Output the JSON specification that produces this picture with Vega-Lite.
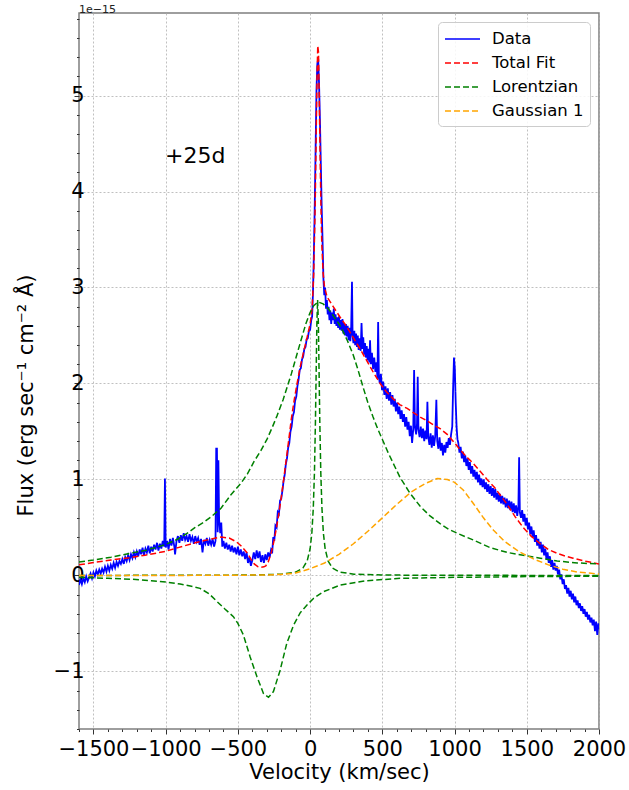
{
"$schema": "https://vega.github.io/schema/vega-lite/v6.json",
"width": 520, "height": 716,
"autosize": {"type": "none"},
"padding": {"left": 79, "top": 13, "right": 30, "bottom": 61},
"background": "white",
"title": {"text": "1e\u221215", "anchor": "start", "frame": "group", "fontSize": 11, "fontWeight": "normal", "offset": -7, "color": "#222222"},
"config": {
  "font": "DejaVu Sans",
  "view": {"stroke": "#7f7f7f", "strokeWidth": 1.5},
  "axis": {"domain": false, "tickColor": "#333333", "labelColor": "black", "titleColor": "black", "titleFontWeight": "normal", "labelFontSize": 21, "titleFontSize": 21, "gridColor": "#b0b0b0", "gridDash": [2, 2], "gridWidth": 0.8, "labelOverlap": false, "labelFlush": false},
  "legend": {"orient": "top-right", "offset": 9, "labelFontSize": 16.5, "labelColor": "black", "fillColor": "rgba(255,255,255,0.85)", "strokeColor": "#cccccc", "cornerRadius": 4, "padding": 6, "rowPadding": 4, "symbolType": "M-1,0H2.5", "symbolSize": 400, "symbolStrokeWidth": 1.5, "labelOffset": 26}
},
"datasets": {
"data": [
{"s":"Data","v":-1600,"f":-0.10},{"s":"Data","v":-1590,"f":-0.04},{"s":"Data","v":-1580,"f":-0.09},{"s":"Data","v":-1570,"f":-0.03},{"s":"Data","v":-1560,"f":-0.07},{"s":"Data","v":-1550,"f":-0.01},{"s":"Data","v":-1540,"f":-0.06},{"s":"Data","v":-1530,"f":-0.02},{"s":"Data","v":-1520,"f":0.02},{"s":"Data","v":-1510,"f":-0.03},{"s":"Data","v":-1500,"f":0.03},{"s":"Data","v":-1490,"f":-0.01},{"s":"Data","v":-1480,"f":0.05},{"s":"Data","v":-1470,"f":0.01},{"s":"Data","v":-1460,"f":0.06},{"s":"Data","v":-1450,"f":0.02},{"s":"Data","v":-1440,"f":0.07},{"s":"Data","v":-1430,"f":0.03},{"s":"Data","v":-1420,"f":0.09},{"s":"Data","v":-1410,"f":0.04},{"s":"Data","v":-1400,"f":0.10},{"s":"Data","v":-1390,"f":0.05},{"s":"Data","v":-1380,"f":0.11},{"s":"Data","v":-1370,"f":0.07},{"s":"Data","v":-1360,"f":0.13},{"s":"Data","v":-1350,"f":0.08},{"s":"Data","v":-1340,"f":0.14},{"s":"Data","v":-1330,"f":0.10},{"s":"Data","v":-1320,"f":0.15},{"s":"Data","v":-1310,"f":0.12},{"s":"Data","v":-1300,"f":0.17},{"s":"Data","v":-1290,"f":0.12},{"s":"Data","v":-1280,"f":0.19},{"s":"Data","v":-1270,"f":0.15},{"s":"Data","v":-1260,"f":0.21},{"s":"Data","v":-1250,"f":0.16},{"s":"Data","v":-1240,"f":0.22},{"s":"Data","v":-1230,"f":0.18},{"s":"Data","v":-1220,"f":0.24},{"s":"Data","v":-1210,"f":0.19},{"s":"Data","v":-1200,"f":0.25},{"s":"Data","v":-1190,"f":0.20},{"s":"Data","v":-1180,"f":0.27},{"s":"Data","v":-1170,"f":0.22},{"s":"Data","v":-1160,"f":0.29},{"s":"Data","v":-1150,"f":0.21},{"s":"Data","v":-1140,"f":0.28},{"s":"Data","v":-1130,"f":0.24},{"s":"Data","v":-1120,"f":0.31},{"s":"Data","v":-1110,"f":0.23},{"s":"Data","v":-1100,"f":0.30},{"s":"Data","v":-1090,"f":0.25},{"s":"Data","v":-1080,"f":0.32},{"s":"Data","v":-1070,"f":0.27},{"s":"Data","v":-1060,"f":0.34},{"s":"Data","v":-1050,"f":0.26},{"s":"Data","v":-1040,"f":0.33},{"s":"Data","v":-1030,"f":0.28},{"s":"Data","v":-1020,"f":0.36},{"s":"Data","v":-1010,"f":0.30},{"s":"Data","v":-1005,"f":1.01},{"s":"Data","v":-1000,"f":0.29},{"s":"Data","v":-990,"f":0.36},{"s":"Data","v":-980,"f":0.27},{"s":"Data","v":-970,"f":0.38},{"s":"Data","v":-960,"f":0.31},{"s":"Data","v":-950,"f":0.39},{"s":"Data","v":-940,"f":0.30},{"s":"Data","v":-935,"f":0.22},{"s":"Data","v":-925,"f":0.36},{"s":"Data","v":-915,"f":0.41},{"s":"Data","v":-905,"f":0.34},{"s":"Data","v":-895,"f":0.42},{"s":"Data","v":-885,"f":0.36},{"s":"Data","v":-875,"f":0.44},{"s":"Data","v":-865,"f":0.37},{"s":"Data","v":-855,"f":0.41},{"s":"Data","v":-845,"f":0.35},{"s":"Data","v":-835,"f":0.43},{"s":"Data","v":-825,"f":0.36},{"s":"Data","v":-815,"f":0.40},{"s":"Data","v":-805,"f":0.33},{"s":"Data","v":-795,"f":0.41},{"s":"Data","v":-785,"f":0.35},{"s":"Data","v":-775,"f":0.39},{"s":"Data","v":-765,"f":0.32},{"s":"Data","v":-755,"f":0.38},{"s":"Data","v":-745,"f":0.24},{"s":"Data","v":-735,"f":0.37},{"s":"Data","v":-725,"f":0.33},{"s":"Data","v":-715,"f":0.39},{"s":"Data","v":-705,"f":0.31},{"s":"Data","v":-695,"f":0.37},{"s":"Data","v":-685,"f":0.32},{"s":"Data","v":-675,"f":0.38},{"s":"Data","v":-665,"f":0.30},{"s":"Data","v":-655,"f":0.36},{"s":"Data","v":-650,"f":1.32},{"s":"Data","v":-645,"f":1.32},{"s":"Data","v":-640,"f":0.45},{"s":"Data","v":-635,"f":1.20},{"s":"Data","v":-630,"f":0.58},{"s":"Data","v":-622,"f":0.44},{"s":"Data","v":-615,"f":0.55},{"s":"Data","v":-608,"f":0.30},{"s":"Data","v":-600,"f":0.36},{"s":"Data","v":-590,"f":0.28},{"s":"Data","v":-580,"f":0.34},{"s":"Data","v":-570,"f":0.27},{"s":"Data","v":-560,"f":0.32},{"s":"Data","v":-550,"f":0.25},{"s":"Data","v":-540,"f":0.31},{"s":"Data","v":-530,"f":0.24},{"s":"Data","v":-520,"f":0.29},{"s":"Data","v":-510,"f":0.22},{"s":"Data","v":-500,"f":0.30},{"s":"Data","v":-490,"f":0.21},{"s":"Data","v":-480,"f":0.27},{"s":"Data","v":-470,"f":0.20},{"s":"Data","v":-460,"f":0.25},{"s":"Data","v":-450,"f":0.17},{"s":"Data","v":-440,"f":0.24},{"s":"Data","v":-430,"f":0.13},{"s":"Data","v":-420,"f":0.19},{"s":"Data","v":-410,"f":0.10},{"s":"Data","v":-400,"f":0.16},{"s":"Data","v":-390,"f":0.24},{"s":"Data","v":-380,"f":0.17},{"s":"Data","v":-370,"f":0.26},{"s":"Data","v":-360,"f":0.18},{"s":"Data","v":-350,"f":0.25},{"s":"Data","v":-340,"f":0.14},{"s":"Data","v":-330,"f":0.21},{"s":"Data","v":-320,"f":0.13},{"s":"Data","v":-310,"f":0.22},{"s":"Data","v":-300,"f":0.16},{"s":"Data","v":-290,"f":0.24},{"s":"Data","v":-280,"f":0.19},{"s":"Data","v":-270,"f":0.27},{"s":"Data","v":-262,"f":0.25},{"s":"Data","v":-255,"f":0.40},{"s":"Data","v":-248,"f":0.36},{"s":"Data","v":-240,"f":0.52},{"s":"Data","v":-232,"f":0.50},{"s":"Data","v":-224,"f":0.66},{"s":"Data","v":-216,"f":0.64},{"s":"Data","v":-208,"f":0.78},{"s":"Data","v":-200,"f":0.80},{"s":"Data","v":-192,"f":0.88},{"s":"Data","v":-184,"f":0.98},{"s":"Data","v":-176,"f":1.05},{"s":"Data","v":-168,"f":1.16},{"s":"Data","v":-160,"f":1.22},{"s":"Data","v":-152,"f":1.33},{"s":"Data","v":-144,"f":1.38},{"s":"Data","v":-136,"f":1.50},{"s":"Data","v":-128,"f":1.55},{"s":"Data","v":-120,"f":1.66},{"s":"Data","v":-112,"f":1.70},{"s":"Data","v":-104,"f":1.82},{"s":"Data","v":-96,"f":1.86},{"s":"Data","v":-88,"f":1.97},{"s":"Data","v":-80,"f":2.04},{"s":"Data","v":-72,"f":2.14},{"s":"Data","v":-64,"f":2.16},{"s":"Data","v":-56,"f":2.25},{"s":"Data","v":-48,"f":2.28},{"s":"Data","v":-40,"f":2.36},{"s":"Data","v":-32,"f":2.38},{"s":"Data","v":-24,"f":2.46},{"s":"Data","v":-16,"f":2.47},{"s":"Data","v":-8,"f":2.55},{"s":"Data","v":0,"f":2.56},{"s":"Data","v":8,"f":2.66},{"s":"Data","v":14,"f":2.70},{"s":"Data","v":20,"f":2.95},{"s":"Data","v":26,"f":3.35},{"s":"Data","v":32,"f":3.85},{"s":"Data","v":38,"f":4.45},{"s":"Data","v":44,"f":5.05},{"s":"Data","v":50,"f":5.33},{"s":"Data","v":56,"f":5.38},{"s":"Data","v":62,"f":5.12},{"s":"Data","v":68,"f":4.75},{"s":"Data","v":74,"f":4.30},{"s":"Data","v":80,"f":3.85},{"s":"Data","v":86,"f":3.50},{"s":"Data","v":92,"f":3.10},{"s":"Data","v":98,"f":2.92},{"s":"Data","v":104,"f":3.00},{"s":"Data","v":110,"f":2.78},{"s":"Data","v":116,"f":2.87},{"s":"Data","v":122,"f":2.72},{"s":"Data","v":128,"f":2.80},{"s":"Data","v":134,"f":2.66},{"s":"Data","v":140,"f":2.76},{"s":"Data","v":146,"f":2.62},{"s":"Data","v":152,"f":2.74},{"s":"Data","v":158,"f":2.66},{"s":"Data","v":164,"f":2.78},{"s":"Data","v":170,"f":2.62},{"s":"Data","v":176,"f":2.72},{"s":"Data","v":182,"f":2.60},{"s":"Data","v":188,"f":2.69},{"s":"Data","v":194,"f":2.58},{"s":"Data","v":200,"f":2.70},{"s":"Data","v":206,"f":2.56},{"s":"Data","v":212,"f":2.66},{"s":"Data","v":218,"f":2.55},{"s":"Data","v":224,"f":2.67},{"s":"Data","v":230,"f":2.52},{"s":"Data","v":236,"f":2.63},{"s":"Data","v":242,"f":2.50},{"s":"Data","v":248,"f":2.62},{"s":"Data","v":254,"f":2.49},{"s":"Data","v":260,"f":2.60},{"s":"Data","v":266,"f":2.45},{"s":"Data","v":272,"f":2.58},{"s":"Data","v":278,"f":2.44},{"s":"Data","v":284,"f":2.56},{"s":"Data","v":290,"f":3.06},{"s":"Data","v":294,"f":2.50},{"s":"Data","v":300,"f":2.42},{"s":"Data","v":306,"f":2.55},{"s":"Data","v":312,"f":2.40},{"s":"Data","v":318,"f":2.52},{"s":"Data","v":324,"f":2.38},{"s":"Data","v":330,"f":2.50},{"s":"Data","v":336,"f":2.35},{"s":"Data","v":342,"f":2.47},{"s":"Data","v":350,"f":2.34},{"s":"Data","v":356,"f":2.63},{"s":"Data","v":362,"f":2.36},{"s":"Data","v":368,"f":2.48},{"s":"Data","v":374,"f":2.30},{"s":"Data","v":380,"f":2.42},{"s":"Data","v":386,"f":2.27},{"s":"Data","v":392,"f":2.39},{"s":"Data","v":398,"f":2.24},{"s":"Data","v":404,"f":2.36},{"s":"Data","v":410,"f":2.22},{"s":"Data","v":415,"f":2.45},{"s":"Data","v":420,"f":2.20},{"s":"Data","v":428,"f":2.32},{"s":"Data","v":436,"f":2.15},{"s":"Data","v":444,"f":2.27},{"s":"Data","v":452,"f":2.12},{"s":"Data","v":460,"f":2.22},{"s":"Data","v":466,"f":2.05},{"s":"Data","v":471,"f":2.64},{"s":"Data","v":476,"f":2.08},{"s":"Data","v":482,"f":2.00},{"s":"Data","v":490,"f":2.10},{"s":"Data","v":498,"f":1.93},{"s":"Data","v":506,"f":2.02},{"s":"Data","v":514,"f":1.88},{"s":"Data","v":522,"f":1.97},{"s":"Data","v":530,"f":1.84},{"s":"Data","v":538,"f":1.95},{"s":"Data","v":546,"f":1.82},{"s":"Data","v":554,"f":1.91},{"s":"Data","v":562,"f":1.78},{"s":"Data","v":570,"f":1.88},{"s":"Data","v":578,"f":1.76},{"s":"Data","v":586,"f":1.84},{"s":"Data","v":594,"f":1.71},{"s":"Data","v":602,"f":1.80},{"s":"Data","v":610,"f":1.68},{"s":"Data","v":618,"f":1.76},{"s":"Data","v":626,"f":1.63},{"s":"Data","v":634,"f":1.72},{"s":"Data","v":642,"f":1.60},{"s":"Data","v":650,"f":1.68},{"s":"Data","v":658,"f":1.55},{"s":"Data","v":666,"f":1.65},{"s":"Data","v":674,"f":1.52},{"s":"Data","v":682,"f":1.60},{"s":"Data","v":690,"f":1.45},{"s":"Data","v":698,"f":1.56},{"s":"Data","v":706,"f":1.38},{"s":"Data","v":714,"f":1.52},{"s":"Data","v":720,"f":2.14},{"s":"Data","v":726,"f":1.55},{"s":"Data","v":734,"f":1.47},{"s":"Data","v":740,"f":1.58},{"s":"Data","v":745,"f":2.07},{"s":"Data","v":750,"f":1.52},{"s":"Data","v":758,"f":1.44},{"s":"Data","v":766,"f":1.55},{"s":"Data","v":774,"f":1.43},{"s":"Data","v":782,"f":1.53},{"s":"Data","v":790,"f":1.40},{"s":"Data","v":798,"f":1.51},{"s":"Data","v":806,"f":1.42},{"s":"Data","v":812,"f":1.81},{"s":"Data","v":818,"f":1.45},{"s":"Data","v":826,"f":1.36},{"s":"Data","v":834,"f":1.48},{"s":"Data","v":842,"f":1.33},{"s":"Data","v":850,"f":1.46},{"s":"Data","v":858,"f":1.35},{"s":"Data","v":866,"f":1.45},{"s":"Data","v":874,"f":1.83},{"s":"Data","v":880,"f":1.40},{"s":"Data","v":888,"f":1.32},{"s":"Data","v":896,"f":1.44},{"s":"Data","v":904,"f":1.30},{"s":"Data","v":912,"f":1.38},{"s":"Data","v":920,"f":1.25},{"s":"Data","v":928,"f":1.36},{"s":"Data","v":936,"f":1.28},{"s":"Data","v":944,"f":1.39},{"s":"Data","v":952,"f":1.33},{"s":"Data","v":960,"f":1.43},{"s":"Data","v":968,"f":1.36},{"s":"Data","v":976,"f":1.47},{"s":"Data","v":984,"f":1.55},{"s":"Data","v":990,"f":1.95},{"s":"Data","v":996,"f":2.27},{"s":"Data","v":1002,"f":2.15},{"s":"Data","v":1008,"f":1.80},{"s":"Data","v":1014,"f":1.55},{"s":"Data","v":1020,"f":1.42},{"s":"Data","v":1026,"f":1.38},{"s":"Data","v":1034,"f":1.28},{"s":"Data","v":1042,"f":1.34},{"s":"Data","v":1050,"f":1.22},{"s":"Data","v":1058,"f":1.29},{"s":"Data","v":1066,"f":1.18},{"s":"Data","v":1074,"f":1.25},{"s":"Data","v":1082,"f":1.14},{"s":"Data","v":1090,"f":1.22},{"s":"Data","v":1098,"f":1.10},{"s":"Data","v":1106,"f":1.18},{"s":"Data","v":1114,"f":1.06},{"s":"Data","v":1122,"f":1.14},{"s":"Data","v":1130,"f":1.03},{"s":"Data","v":1138,"f":1.10},{"s":"Data","v":1146,"f":1.00},{"s":"Data","v":1154,"f":1.08},{"s":"Data","v":1162,"f":0.97},{"s":"Data","v":1170,"f":1.05},{"s":"Data","v":1178,"f":0.94},{"s":"Data","v":1186,"f":1.01},{"s":"Data","v":1194,"f":0.92},{"s":"Data","v":1202,"f":1.00},{"s":"Data","v":1210,"f":0.90},{"s":"Data","v":1218,"f":0.97},{"s":"Data","v":1226,"f":0.87},{"s":"Data","v":1234,"f":0.95},{"s":"Data","v":1242,"f":0.85},{"s":"Data","v":1250,"f":0.93},{"s":"Data","v":1258,"f":0.83},{"s":"Data","v":1266,"f":0.91},{"s":"Data","v":1274,"f":0.81},{"s":"Data","v":1282,"f":0.90},{"s":"Data","v":1290,"f":0.79},{"s":"Data","v":1298,"f":0.86},{"s":"Data","v":1306,"f":0.77},{"s":"Data","v":1314,"f":0.85},{"s":"Data","v":1322,"f":0.75},{"s":"Data","v":1330,"f":0.83},{"s":"Data","v":1338,"f":0.74},{"s":"Data","v":1346,"f":0.81},{"s":"Data","v":1354,"f":0.71},{"s":"Data","v":1362,"f":0.80},{"s":"Data","v":1370,"f":0.70},{"s":"Data","v":1378,"f":0.78},{"s":"Data","v":1386,"f":0.68},{"s":"Data","v":1394,"f":0.77},{"s":"Data","v":1402,"f":0.66},{"s":"Data","v":1410,"f":0.75},{"s":"Data","v":1418,"f":0.65},{"s":"Data","v":1426,"f":0.73},{"s":"Data","v":1434,"f":0.62},{"s":"Data","v":1442,"f":0.72},{"s":"Data","v":1447,"f":1.23},{"s":"Data","v":1452,"f":0.66},{"s":"Data","v":1460,"f":0.60},{"s":"Data","v":1468,"f":0.68},{"s":"Data","v":1476,"f":0.56},{"s":"Data","v":1484,"f":0.64},{"s":"Data","v":1492,"f":0.52},{"s":"Data","v":1500,"f":0.60},{"s":"Data","v":1508,"f":0.48},{"s":"Data","v":1516,"f":0.55},{"s":"Data","v":1524,"f":0.43},{"s":"Data","v":1532,"f":0.51},{"s":"Data","v":1540,"f":0.40},{"s":"Data","v":1548,"f":0.47},{"s":"Data","v":1556,"f":0.35},{"s":"Data","v":1564,"f":0.42},{"s":"Data","v":1572,"f":0.31},{"s":"Data","v":1580,"f":0.38},{"s":"Data","v":1588,"f":0.28},{"s":"Data","v":1596,"f":0.35},{"s":"Data","v":1604,"f":0.24},{"s":"Data","v":1612,"f":0.32},{"s":"Data","v":1620,"f":0.21},{"s":"Data","v":1628,"f":0.28},{"s":"Data","v":1636,"f":0.17},{"s":"Data","v":1644,"f":0.24},{"s":"Data","v":1652,"f":0.13},{"s":"Data","v":1660,"f":0.20},{"s":"Data","v":1668,"f":0.09},{"s":"Data","v":1676,"f":0.16},{"s":"Data","v":1684,"f":0.06},{"s":"Data","v":1692,"f":0.13},{"s":"Data","v":1700,"f":0.05},{"s":"Data","v":1708,"f":0.10},{"s":"Data","v":1716,"f":0.01},{"s":"Data","v":1724,"f":0.06},{"s":"Data","v":1732,"f":-0.04},{"s":"Data","v":1740,"f":0.01},{"s":"Data","v":1748,"f":-0.09},{"s":"Data","v":1756,"f":-0.04},{"s":"Data","v":1764,"f":-0.14},{"s":"Data","v":1772,"f":-0.10},{"s":"Data","v":1780,"f":-0.19},{"s":"Data","v":1788,"f":-0.13},{"s":"Data","v":1796,"f":-0.22},{"s":"Data","v":1804,"f":-0.16},{"s":"Data","v":1812,"f":-0.25},{"s":"Data","v":1820,"f":-0.19},{"s":"Data","v":1828,"f":-0.28},{"s":"Data","v":1836,"f":-0.22},{"s":"Data","v":1844,"f":-0.31},{"s":"Data","v":1852,"f":-0.26},{"s":"Data","v":1860,"f":-0.34},{"s":"Data","v":1868,"f":-0.29},{"s":"Data","v":1876,"f":-0.37},{"s":"Data","v":1884,"f":-0.32},{"s":"Data","v":1892,"f":-0.40},{"s":"Data","v":1900,"f":-0.35},{"s":"Data","v":1908,"f":-0.43},{"s":"Data","v":1916,"f":-0.38},{"s":"Data","v":1924,"f":-0.46},{"s":"Data","v":1932,"f":-0.41},{"s":"Data","v":1940,"f":-0.49},{"s":"Data","v":1948,"f":-0.44},{"s":"Data","v":1956,"f":-0.52},{"s":"Data","v":1964,"f":-0.46},{"s":"Data","v":1972,"f":-0.58},{"s":"Data","v":1980,"f":-0.48},{"s":"Data","v":1988,"f":-0.62},{"s":"Data","v":1996,"f":-0.50},{"s":"Data","v":2000,"f":-0.56}
],
"fit": [
{"s":"Total Fit","v":-1600,"f":0.11},{"s":"Total Fit","v":-1500,"f":0.135},{"s":"Total Fit","v":-1378,"f":0.16},{"s":"Total Fit","v":-1250,"f":0.185},{"s":"Total Fit","v":-1143,"f":0.21},{"s":"Total Fit","v":-1004,"f":0.25},{"s":"Total Fit","v":-914,"f":0.29},{"s":"Total Fit","v":-796,"f":0.34},{"s":"Total Fit","v":-686,"f":0.38},{"s":"Total Fit","v":-617,"f":0.40},{"s":"Total Fit","v":-560,"f":0.39},{"s":"Total Fit","v":-510,"f":0.35},{"s":"Total Fit","v":-479,"f":0.31},{"s":"Total Fit","v":-450,"f":0.26},{"s":"Total Fit","v":-433,"f":0.23},{"s":"Total Fit","v":-410,"f":0.17},{"s":"Total Fit","v":-387,"f":0.12},{"s":"Total Fit","v":-360,"f":0.09},{"s":"Total Fit","v":-341,"f":0.085},{"s":"Total Fit","v":-320,"f":0.09},{"s":"Total Fit","v":-307,"f":0.10},{"s":"Total Fit","v":-290,"f":0.14},{"s":"Total Fit","v":-270,"f":0.23},{"s":"Total Fit","v":-250,"f":0.36},{"s":"Total Fit","v":-236,"f":0.47},{"s":"Total Fit","v":-218,"f":0.63},{"s":"Total Fit","v":-200,"f":0.81},{"s":"Total Fit","v":-183,"f":1.00},{"s":"Total Fit","v":-166,"f":1.20},{"s":"Total Fit","v":-148,"f":1.41},{"s":"Total Fit","v":-131,"f":1.62},{"s":"Total Fit","v":-110,"f":1.83},{"s":"Total Fit","v":-90,"f":2.00},{"s":"Total Fit","v":-69,"f":2.17},{"s":"Total Fit","v":-45,"f":2.33},{"s":"Total Fit","v":-21,"f":2.48},{"s":"Total Fit","v":0,"f":2.62},{"s":"Total Fit","v":14,"f":2.78},{"s":"Total Fit","v":25,"f":3.15},{"s":"Total Fit","v":35,"f":3.85},{"s":"Total Fit","v":42,"f":4.6},{"s":"Total Fit","v":48,"f":5.2},{"s":"Total Fit","v":53,"f":5.52},{"s":"Total Fit","v":58,"f":5.45},{"s":"Total Fit","v":63,"f":5.0},{"s":"Total Fit","v":69,"f":4.4},{"s":"Total Fit","v":75,"f":3.85},{"s":"Total Fit","v":81,"f":3.45},{"s":"Total Fit","v":90,"f":3.15},{"s":"Total Fit","v":100,"f":3.0},{"s":"Total Fit","v":118,"f":2.90},{"s":"Total Fit","v":160,"f":2.80},{"s":"Total Fit","v":208,"f":2.69},{"s":"Total Fit","v":250,"f":2.60},{"s":"Total Fit","v":298,"f":2.48},{"s":"Total Fit","v":350,"f":2.35},{"s":"Total Fit","v":395,"f":2.23},{"s":"Total Fit","v":440,"f":2.11},{"s":"Total Fit","v":485,"f":2.00},{"s":"Total Fit","v":530,"f":1.91},{"s":"Total Fit","v":575,"f":1.84},{"s":"Total Fit","v":620,"f":1.78},{"s":"Total Fit","v":672,"f":1.74},{"s":"Total Fit","v":720,"f":1.69},{"s":"Total Fit","v":762,"f":1.65},{"s":"Total Fit","v":810,"f":1.61},{"s":"Total Fit","v":852,"f":1.57},{"s":"Total Fit","v":900,"f":1.53},{"s":"Total Fit","v":949,"f":1.47},{"s":"Total Fit","v":1000,"f":1.38},{"s":"Total Fit","v":1039,"f":1.31},{"s":"Total Fit","v":1080,"f":1.24},{"s":"Total Fit","v":1128,"f":1.17},{"s":"Total Fit","v":1180,"f":1.08},{"s":"Total Fit","v":1225,"f":1.00},{"s":"Total Fit","v":1280,"f":0.91},{"s":"Total Fit","v":1330,"f":0.81},{"s":"Total Fit","v":1364,"f":0.74},{"s":"Total Fit","v":1420,"f":0.61},{"s":"Total Fit","v":1475,"f":0.50},{"s":"Total Fit","v":1530,"f":0.41},{"s":"Total Fit","v":1593,"f":0.33},{"s":"Total Fit","v":1650,"f":0.27},{"s":"Total Fit","v":1710,"f":0.23},{"s":"Total Fit","v":1770,"f":0.20},{"s":"Total Fit","v":1821,"f":0.18},{"s":"Total Fit","v":1900,"f":0.15},{"s":"Total Fit","v":2000,"f":0.12}
],
"lor": [
{"s":"Lorentzian","c":"b","v":-1600,"f":0.14},{"s":"Lorentzian","c":"b","v":-1500,"f":0.16},{"s":"Lorentzian","c":"b","v":-1378,"f":0.19},{"s":"Lorentzian","c":"b","v":-1250,"f":0.23},{"s":"Lorentzian","c":"b","v":-1143,"f":0.26},{"s":"Lorentzian","c":"b","v":-1004,"f":0.32},{"s":"Lorentzian","c":"b","v":-914,"f":0.38},{"s":"Lorentzian","c":"b","v":-850,"f":0.44},{"s":"Lorentzian","c":"b","v":-796,"f":0.50},{"s":"Lorentzian","c":"b","v":-740,"f":0.55},{"s":"Lorentzian","c":"b","v":-686,"f":0.61},{"s":"Lorentzian","c":"b","v":-617,"f":0.70},{"s":"Lorentzian","c":"b","v":-548,"f":0.84},{"s":"Lorentzian","c":"b","v":-479,"f":0.96},{"s":"Lorentzian","c":"b","v":-433,"f":1.06},{"s":"Lorentzian","c":"b","v":-387,"f":1.19},{"s":"Lorentzian","c":"b","v":-341,"f":1.30},{"s":"Lorentzian","c":"b","v":-298,"f":1.42},{"s":"Lorentzian","c":"b","v":-260,"f":1.55},{"s":"Lorentzian","c":"b","v":-230,"f":1.66},{"s":"Lorentzian","c":"b","v":-187,"f":1.83},{"s":"Lorentzian","c":"b","v":-130,"f":2.10},{"s":"Lorentzian","c":"b","v":-69,"f":2.42},{"s":"Lorentzian","c":"b","v":-30,"f":2.62},{"s":"Lorentzian","c":"b","v":0,"f":2.74},{"s":"Lorentzian","c":"b","v":25,"f":2.81},{"s":"Lorentzian","c":"b","v":55,"f":2.85},{"s":"Lorentzian","c":"b","v":90,"f":2.83},{"s":"Lorentzian","c":"b","v":125,"f":2.78},{"s":"Lorentzian","c":"b","v":159,"f":2.71},{"s":"Lorentzian","c":"b","v":200,"f":2.62},{"s":"Lorentzian","c":"b","v":229,"f":2.54},{"s":"Lorentzian","c":"b","v":260,"f":2.44},{"s":"Lorentzian","c":"b","v":298,"f":2.30},{"s":"Lorentzian","c":"b","v":330,"f":2.15},{"s":"Lorentzian","c":"b","v":367,"f":1.96},{"s":"Lorentzian","c":"b","v":400,"f":1.80},{"s":"Lorentzian","c":"b","v":436,"f":1.65},{"s":"Lorentzian","c":"b","v":470,"f":1.52},{"s":"Lorentzian","c":"b","v":505,"f":1.40},{"s":"Lorentzian","c":"b","v":540,"f":1.28},{"s":"Lorentzian","c":"b","v":575,"f":1.17},{"s":"Lorentzian","c":"b","v":623,"f":1.02},{"s":"Lorentzian","c":"b","v":690,"f":0.86},{"s":"Lorentzian","c":"b","v":762,"f":0.72},{"s":"Lorentzian","c":"b","v":830,"f":0.62},{"s":"Lorentzian","c":"b","v":900,"f":0.54},{"s":"Lorentzian","c":"b","v":960,"f":0.48},{"s":"Lorentzian","c":"b","v":1018,"f":0.44},{"s":"Lorentzian","c":"b","v":1128,"f":0.37},{"s":"Lorentzian","c":"b","v":1246,"f":0.29},{"s":"Lorentzian","c":"b","v":1364,"f":0.24},{"s":"Lorentzian","c":"b","v":1475,"f":0.21},{"s":"Lorentzian","c":"b","v":1593,"f":0.18},{"s":"Lorentzian","c":"b","v":1710,"f":0.15},{"s":"Lorentzian","c":"b","v":1850,"f":0.13},{"s":"Lorentzian","c":"b","v":2000,"f":0.12},
{"s":"Lorentzian","c":"n","v":-1600,"f":0.0003},{"s":"Lorentzian","c":"n","v":-800,"f":0.0011},{"s":"Lorentzian","c":"n","v":-400,"f":0.004},{"s":"Lorentzian","c":"n","v":-200,"f":0.013},{"s":"Lorentzian","c":"n","v":-100,"f":0.035},{"s":"Lorentzian","c":"n","v":-50,"f":0.077},{"s":"Lorentzian","c":"n","v":-20,"f":0.152},{"s":"Lorentzian","c":"n","v":0,"f":0.278},{"s":"Lorentzian","c":"n","v":12,"f":0.44},{"s":"Lorentzian","c":"n","v":22,"f":0.70},{"s":"Lorentzian","c":"n","v":30,"f":1.07},{"s":"Lorentzian","c":"n","v":37,"f":1.61},{"s":"Lorentzian","c":"n","v":42,"f":2.13},{"s":"Lorentzian","c":"n","v":47,"f":2.64},{"s":"Lorentzian","c":"n","v":52,"f":2.87},{"s":"Lorentzian","c":"n","v":57,"f":2.64},{"s":"Lorentzian","c":"n","v":62,"f":2.13},{"s":"Lorentzian","c":"n","v":67,"f":1.61},{"s":"Lorentzian","c":"n","v":74,"f":1.07},{"s":"Lorentzian","c":"n","v":82,"f":0.70},{"s":"Lorentzian","c":"n","v":92,"f":0.44},{"s":"Lorentzian","c":"n","v":104,"f":0.278},{"s":"Lorentzian","c":"n","v":124,"f":0.152},{"s":"Lorentzian","c":"n","v":154,"f":0.077},{"s":"Lorentzian","c":"n","v":204,"f":0.035},{"s":"Lorentzian","c":"n","v":304,"f":0.013},{"s":"Lorentzian","c":"n","v":504,"f":0.004},{"s":"Lorentzian","c":"n","v":1000,"f":0.0009},{"s":"Lorentzian","c":"n","v":2000,"f":0.0002},
{"s":"Lorentzian","c":"a","v":-1600,"f":-0.02},{"s":"Lorentzian","c":"a","v":-1400,"f":-0.03},{"s":"Lorentzian","c":"a","v":-1226,"f":-0.04},{"s":"Lorentzian","c":"a","v":-1100,"f":-0.055},{"s":"Lorentzian","c":"a","v":-990,"f":-0.07},{"s":"Lorentzian","c":"a","v":-900,"f":-0.09},{"s":"Lorentzian","c":"a","v":-830,"f":-0.11},{"s":"Lorentzian","c":"a","v":-762,"f":-0.135},{"s":"Lorentzian","c":"a","v":-700,"f":-0.19},{"s":"Lorentzian","c":"a","v":-646,"f":-0.27},{"s":"Lorentzian","c":"a","v":-590,"f":-0.35},{"s":"Lorentzian","c":"a","v":-531,"f":-0.43},{"s":"Lorentzian","c":"a","v":-500,"f":-0.50},{"s":"Lorentzian","c":"a","v":-462,"f":-0.62},{"s":"Lorentzian","c":"a","v":-415,"f":-0.85},{"s":"Lorentzian","c":"a","v":-369,"f":-1.05},{"s":"Lorentzian","c":"a","v":-323,"f":-1.23},{"s":"Lorentzian","c":"a","v":-288,"f":-1.27},{"s":"Lorentzian","c":"a","v":-254,"f":-1.21},{"s":"Lorentzian","c":"a","v":-208,"f":-0.99},{"s":"Lorentzian","c":"a","v":-162,"f":-0.71},{"s":"Lorentzian","c":"a","v":-115,"f":-0.52},{"s":"Lorentzian","c":"a","v":-69,"f":-0.39},{"s":"Lorentzian","c":"a","v":-23,"f":-0.31},{"s":"Lorentzian","c":"a","v":23,"f":-0.24},{"s":"Lorentzian","c":"a","v":92,"f":-0.17},{"s":"Lorentzian","c":"a","v":208,"f":-0.10},{"s":"Lorentzian","c":"a","v":392,"f":-0.055},{"s":"Lorentzian","c":"a","v":623,"f":-0.03},{"s":"Lorentzian","c":"a","v":1000,"f":-0.02},{"s":"Lorentzian","c":"a","v":1500,"f":-0.012},{"s":"Lorentzian","c":"a","v":2000,"f":-0.008}
],
"gau": [
{"s":"Gaussian 1","v":-1600,"f":0.0},{"s":"Gaussian 1","v":-1000,"f":0.0},{"s":"Gaussian 1","v":-500,"f":0.002},{"s":"Gaussian 1","v":-300,"f":0.005},{"s":"Gaussian 1","v":-200,"f":0.01},{"s":"Gaussian 1","v":-100,"f":0.025},{"s":"Gaussian 1","v":0,"f":0.07},{"s":"Gaussian 1","v":100,"f":0.13},{"s":"Gaussian 1","v":200,"f":0.22},{"s":"Gaussian 1","v":300,"f":0.33},{"s":"Gaussian 1","v":400,"f":0.46},{"s":"Gaussian 1","v":500,"f":0.60},{"s":"Gaussian 1","v":600,"f":0.74},{"s":"Gaussian 1","v":700,"f":0.87},{"s":"Gaussian 1","v":800,"f":0.96},{"s":"Gaussian 1","v":880,"f":1.01},{"s":"Gaussian 1","v":950,"f":1.00},{"s":"Gaussian 1","v":1000,"f":0.97},{"s":"Gaussian 1","v":1060,"f":0.89},{"s":"Gaussian 1","v":1130,"f":0.75},{"s":"Gaussian 1","v":1200,"f":0.60},{"s":"Gaussian 1","v":1270,"f":0.47},{"s":"Gaussian 1","v":1350,"f":0.35},{"s":"Gaussian 1","v":1450,"f":0.245},{"s":"Gaussian 1","v":1550,"f":0.17},{"s":"Gaussian 1","v":1650,"f":0.11},{"s":"Gaussian 1","v":1750,"f":0.065},{"s":"Gaussian 1","v":1850,"f":0.035},{"s":"Gaussian 1","v":2000,"f":0.015}
]
},
"encoding": {
  "x": {"field": "v", "type": "quantitative", "scale": {"domain": [-1600, 2000], "nice": false, "zero": false},
    "axis": {"title": "Velocity (km/sec)", "format": "d",
      "values": [-1600,-1500,-1400,-1300,-1200,-1100,-1000,-900,-800,-700,-600,-500,-400,-300,-200,-100,0,100,200,300,400,500,600,700,800,900,1000,1100,1200,1300,1400,1500,1600,1700,1800,1900,2000],
      "labelExpr": "abs(datum.value % 500) < 0.01 ? datum.label : ''",
      "tickSize": {"condition": {"test": "abs(datum.value % 500) < 0.01", "value": 5}, "value": 2.5},
      "gridOpacity": {"condition": {"test": "abs(datum.value % 500) < 0.01", "value": 1}, "value": 0},
      "labelPadding": 4, "titleBaseline": "alphabetic", "titleY": 49}},
  "y": {"field": "f", "type": "quantitative", "scale": {"domain": [-1.6, 5.86], "nice": false, "zero": false},
    "axis": {"title": "Flux (erg sec\u207b\u00b9 cm\u207b\u00b2 \u00c5)",
      "values": [-1.6,-1.4,-1.2,-1,-0.8,-0.6,-0.4,-0.2,0,0.2,0.4,0.6,0.8,1,1.2,1.4,1.6,1.8,2,2.2,2.4,2.6,2.8,3,3.2,3.4,3.6,3.8,4,4.2,4.4,4.6,4.8,5,5.2,5.4,5.6,5.8],
      "labelExpr": "abs(datum.value - round(datum.value)) < 0.01 ? format(round(datum.value), 'd') : ''",
      "tickSize": {"condition": {"test": "abs(datum.value - round(datum.value)) < 0.01", "value": 5}, "value": 2.5},
      "gridOpacity": {"condition": {"test": "abs(datum.value - round(datum.value)) < 0.01", "value": 1}, "value": 0},
      "labelPadding": -10, "titleBaseline": "alphabetic", "titleAngle": -90, "titleX": -47, "titleY": 382}}
},
"layer": [
  {"data": {"name": "data"}, "mark": {"type": "line", "strokeWidth": 1.8, "clip": true},
   "encoding": {
     "color": {"field": "s", "type": "nominal", "scale": {"domain": ["Data","Total Fit","Lorentzian","Gaussian 1"], "range": ["#0000ff","#ff0000","#008000","#ffa500"]}, "legend": {"title": null}},
     "strokeDash": {"field": "s", "type": "nominal", "scale": {"domain": ["Data","Total Fit","Lorentzian","Gaussian 1"], "range": [[1,0],[6,3],[6,3],[6,3]]}, "legend": {"title": null}}}},
  {"data": {"name": "fit"}, "mark": {"type": "line", "strokeWidth": 1.5, "clip": true},
   "encoding": {"color": {"field": "s", "type": "nominal"}, "strokeDash": {"field": "s", "type": "nominal"}}},
  {"data": {"name": "lor"}, "mark": {"type": "line", "strokeWidth": 1.5, "clip": true},
   "encoding": {"color": {"field": "s", "type": "nominal"}, "strokeDash": {"field": "s", "type": "nominal"}, "detail": {"field": "c"}}},
  {"data": {"name": "gau"}, "mark": {"type": "line", "strokeWidth": 1.5, "clip": true},
   "encoding": {"color": {"field": "s", "type": "nominal"}, "strokeDash": {"field": "s", "type": "nominal"}}},
  {"data": {"values": [{"v": -1004, "f": 4.37, "t": "+25d"}]}, "mark": {"type": "text", "align": "left", "baseline": "middle", "fontSize": 22, "color": "black"},
   "encoding": {"text": {"field": "t"}}}
]
}
